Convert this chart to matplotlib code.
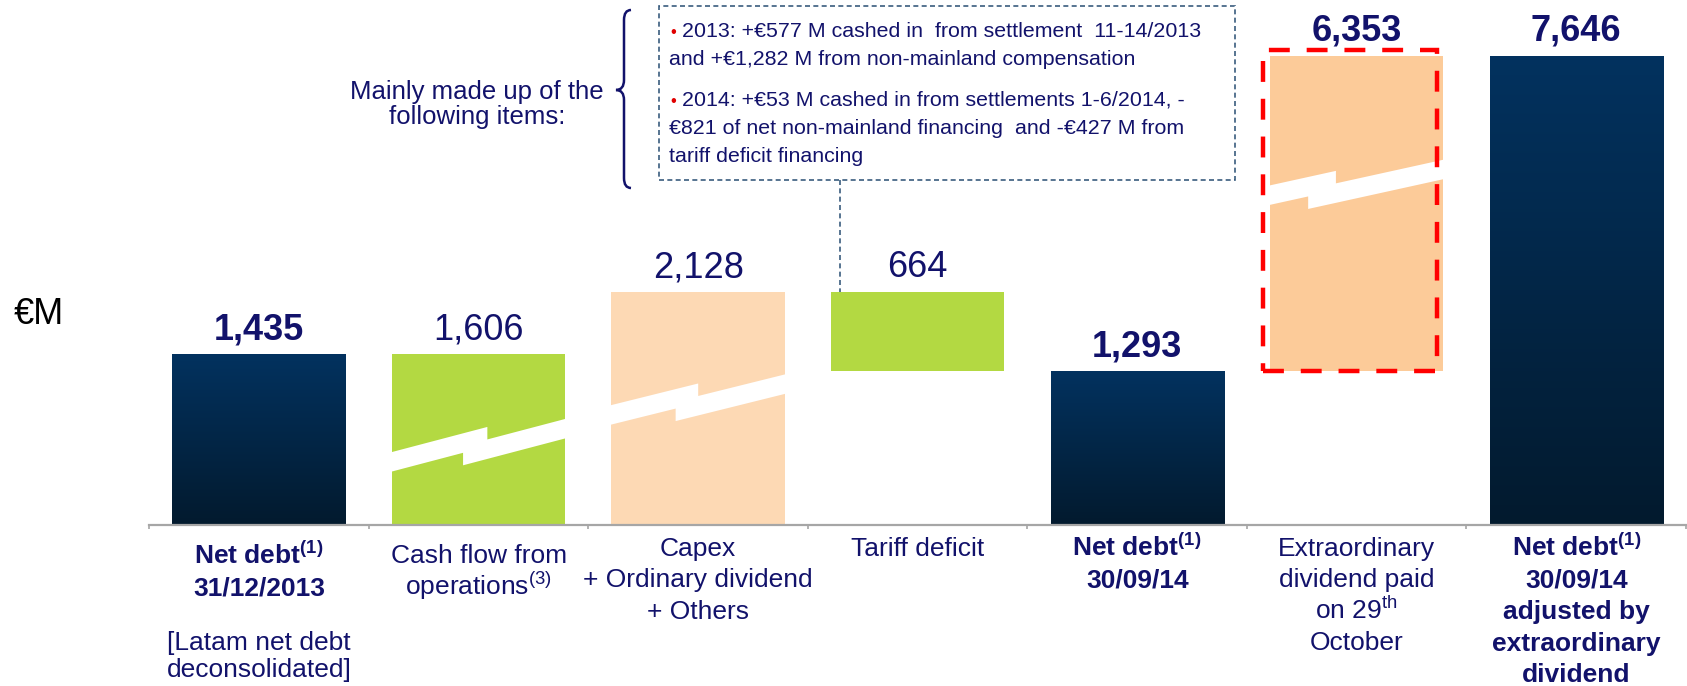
import numpy as np
import matplotlib
matplotlib.use('Agg')
import matplotlib.pyplot as plt
from matplotlib.patches import Rectangle, Polygon, PathPatch
from matplotlib.path import Path
from matplotlib.lines import Line2D
from matplotlib.colors import LinearSegmentedColormap
from matplotlib.transforms import blended_transform_factory

plt.rcParams['font.family'] = ['Liberation Sans', 'DejaVu Sans']
plt.rcParams['mathtext.fontset'] = 'custom'
plt.rcParams['mathtext.rm'] = 'Liberation Sans'
plt.rcParams['mathtext.bf'] = 'Liberation Sans:bold'

# --- data (EUR million) ---
values = [1435, -1606, 2128, -664, 1293, 6353, 7646]
kinds = ['total', 'delta', 'delta', 'delta', 'total', 'delta', 'total']
bold_value = [True, False, False, False, True, True, True]

cat_labels = [
    'Net debt$^{\\mathbf{(1)}}$\n31/12/2013',
    'Cash flow from\noperations$^{\\mathrm{(3)}}$',
    'Capex\n+ Ordinary dividend\n+ Others',
    'Tariff deficit',
    'Net debt$^{\\mathbf{(1)}}$\n30/09/14',
    'Extraordinary\ndividend paid\non 29$^{\\mathrm{th}}$\nOctober',
    'Net debt$^{\\mathbf{(1)}}$\n30/09/14\nadjusted by\nextraordinary\ndividend',
]
cat_bold = [True, False, False, False, True, False, True]
footnote = ['[Latam net debt', 'deconsolidated]']

note_2013 = ['2013: +€577 M cashed in  from settlement  11-14/2013',
             'and +€1,282 M from non-mainland compensation']
note_2014 = ['2014: +€53 M cashed in from settlements 1-6/2014, -',
             '€821 of net non-mainland financing  and -€427 M from',
             'tariff deficit financing']

# --- style ---
NAVY_TXT = '#12126b'
GREEN = '#b3d942'
PEACH = '#fdd9b4'
PEACH2 = '#fccb99'
bar_colors = ['navy', GREEN, PEACH, GREEN, 'navy', PEACH2, 'navy']
navy_cmap = LinearSegmentedColormap.from_list('navy', ['#021a2e', '#03325f'])

# compressed scale above T (the chart is not drawn to scale up there)
T, K = 2000.0, 0.344


def fwd(v):
    v = np.asarray(v, dtype=float)
    return np.where(v <= T, v, T + (v - T) * K)


def inv(d):
    d = np.asarray(d, dtype=float)
    return np.where(d <= T, d, T + (d - T) / K)


W, H = 1687, 686
AX_L, AX_R, AX_B = 149.4, 1686.0, 525.0


def fx(px):
    return px / W


def fy(py):
    return 1 - py / H


fig = plt.figure(figsize=(W / 100, H / 100), dpi=100)
ax = fig.add_axes([AX_L / W, 1 - AX_B / H, (AX_R - AX_L) / W, AX_B / H])
ax.set_yscale('function', functions=(fwd, inv))
ax.set_autoscale_on(False)
ax.set_xlim(-0.5, 6.5)
ax.set_ylim(0, float(inv(4412)))

# waterfall levels
bottoms, tops = [], []
level = 0
for v, k in zip(values, kinds):
    if k == 'total':
        b, t = 0, v
        level = v
    else:
        b, t = min(level, level + v), max(level, level + v)
        level += v
    bottoms.append(b)
    tops.append(t)

x = np.arange(len(values))
BW = 0.79
bars = ax.bar(x, np.array(tops) - np.array(bottoms), bottom=bottoms, width=BW,
              color=['#021a2e' if c == 'navy' else c for c in bar_colors],
              linewidth=0, zorder=2)


def to_axes(xx, yy):
    return ax.transAxes.inverted().transform(ax.transData.transform((xx, yy)))


# gradient fill for the net debt bars
grad = np.linspace(0, 1, 256).reshape(-1, 1)
for i, rect in enumerate(bars):
    if bar_colors[i] != 'navy':
        continue
    x0, y0 = to_axes(i - BW / 2, 0)
    x1, y1 = to_axes(i + BW / 2, tops[i])
    im = ax.imshow(grad, cmap=navy_cmap, aspect='auto', origin='lower',
                   extent=(x0, x1, y0, y1), transform=ax.transAxes,
                   interpolation='bilinear', zorder=2.5)
    im.set_clip_path(rect)

# lightning-shaped breaks (bar index, y at left edge in axes frac, slope, step positions)
breaks = [(1, 0.120, 0.110, 0.55, 0.41),
          (2, 0.2095, 0.104, 0.50, 0.37),
          (5, 0.628, 0.092, 0.38, 0.22)]
thick, step = 0.0371, 0.0238
btrans = blended_transform_factory(ax.transData, ax.transAxes)
for i, yc, s, fa, fb in breaks:
    xl, xr = i - BW / 2 - 0.004, i + BW / 2 + 0.004
    xa = i - BW / 2 + fa * BW
    xb = i - BW / 2 + fb * BW

    def ln(xx):
        return yc + s * (xx - xl)

    pts = [(xl, ln(xl) + thick / 2), (xa, ln(xa) + thick / 2),
           (xa, ln(xa) + thick / 2 - step), (xr, ln(xr) + thick / 2 - step),
           (xr, ln(xr) - thick / 2 - step), (xb, ln(xb) - thick / 2 - step),
           (xb, ln(xb) - thick / 2), (xl, ln(xl) - thick / 2)]
    ax.add_patch(Polygon(pts, closed=True, transform=btrans, facecolor='white',
                         edgecolor='none', zorder=3))

# red dashed frame round the extraordinary dividend
top_frame = float(inv(fwd(tops[5]) + 6 / 0.119))
ax.add_patch(Rectangle((5 - BW / 2 - 0.03, bottoms[5]), BW, top_frame - bottoms[5],
                       fill=False, edgecolor='#ff0000', linewidth=3.2,
                       linestyle=(0, (4.7, 3.8)), zorder=4))

# axis cosmetics
for side in ['left', 'top', 'right']:
    ax.spines[side].set_visible(False)
ax.spines['bottom'].set_color('#a6a6a6')
ax.spines['bottom'].set_linewidth(1.6)
ax.set_xticks(np.arange(-0.5, 7.0, 1.0))
ax.tick_params(axis='x', length=3, width=1.2, color='#a6a6a6', labelbottom=False)
ax.tick_params(axis='y', which='both', left=False, labelleft=False)

# value labels
for i in x:
    ax.annotate(f'{abs(values[i]):,}', xy=(i, tops[i]), xytext=(0, 15),
                textcoords='offset pixels', ha='center', va='baseline', fontsize=26,
                fontweight='bold' if bold_value[i] else 'normal', color=NAVY_TXT, zorder=5)


def put_lines(i, lines, first_px, step_px, **kw):
    for k, line in enumerate(lines):
        ax.annotate(line, xy=(i, 0), xycoords=('data', 'axes fraction'),
                    xytext=(0, -(first_px - AX_B) - k * step_px), textcoords='offset pixels',
                    ha='center', va='baseline', annotation_clip=False, **kw)


first_base = [564, 563, 556, 556, 556, 556, 556]
for i, lab in enumerate(cat_labels):
    put_lines(i, lab.split('\n'), first_base[i], 31.5, fontsize=19, color=NAVY_TXT,
              fontweight='bold' if cat_bold[i] else 'normal')
put_lines(0, footnote, 650, 27, fontsize=19, color=NAVY_TXT)

# unit
fig.text(fx(14), fy(324), '€M', fontsize=26, color='black', va='baseline')

# left note and brace
fig.text(fx(477), fy(99), 'Mainly made up of the', ha='center', va='baseline',
         fontsize=18.5, color=NAVY_TXT)
fig.text(fx(477), fy(124), 'following items:', ha='center', va='baseline',
         fontsize=18.5, color=NAVY_TXT)
brace_px = [(631, 10), (624, 10), (624, 20), (624, 80), (624, 90), (616, 90),
            (624, 90), (624, 100), (624, 178), (624, 188), (631, 188)]
brace_codes = [Path.MOVETO, Path.CURVE3, Path.CURVE3, Path.LINETO, Path.CURVE3, Path.CURVE3,
               Path.CURVE3, Path.CURVE3, Path.LINETO, Path.CURVE3, Path.CURVE3]
brace = Path([(fx(a), fy(b)) for a, b in brace_px], brace_codes)
fig.add_artist(PathPatch(brace, transform=fig.transFigure, fill=False,
                         edgecolor=NAVY_TXT, linewidth=1.8))

# dashed note box with connector to the tariff deficit bar
BOX_C = '#3a5c7e'
fig.add_artist(Rectangle((fx(659), fy(180)), (1235 - 659) / W, 174 / H,
                         transform=fig.transFigure, fill=False, edgecolor=BOX_C,
                         linewidth=1.2, linestyle=(0, (3, 2))))
y_end = fig.transFigure.inverted().transform(ax.transData.transform((0, tops[3])))[1]
fig.add_artist(Line2D([fx(840), fx(840)], [fy(180), y_end], transform=fig.transFigure,
                      color=BOX_C, linewidth=1.2, linestyle=(0, (3, 2))))

for lines, bases in [(note_2013, [37, 65]), (note_2014, [106, 134, 162])]:
    fig.text(fx(670), fy(bases[0]), '•', color='#e00000', fontsize=12, va='baseline')
    for k, (line, b) in enumerate(zip(lines, bases)):
        fig.text(fx(682 if k == 0 else 669), fy(b), line, fontsize=15.4,
                 color=NAVY_TXT, va='baseline')

fig.savefig('out.png', dpi=100)
